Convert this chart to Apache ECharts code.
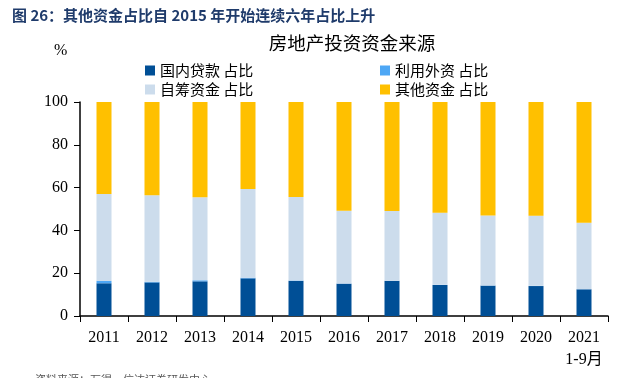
<!DOCTYPE html>
<html><head><meta charset="utf-8">
<script src="https://cdn.jsdelivr.net/npm/echarts@6/dist/echarts.min.js"></script>
<style>html,body{margin:0;padding:0;background:#fff}#c{width:630px;height:378px}</style>
</head><body><div id="c"></div>
<script>
var categories = ['2011','2012','2013','2014','2015','2016','2017','2018','2019','2020','2021\n1-9月'];
var domestic = [15.3,15.7,16.2,17.6,16.4,15.1,16.4,14.5,14.2,14.0,12.5];
var foreign = [1.1,0.3,0.5,0.3,0.2,0.1,0.1,0.1,0.1,0.1,0.05];
var selfRaised = [40.6,40.4,38.8,41.4,39.0,34.0,32.6,33.7,32.7,32.8,31.05];
var other = [43.0,43.6,44.5,40.7,44.4,50.8,50.9,51.7,53.0,53.1,56.4];
var yTicks = [0,20,40,60,80,100];

var serif = '"Liberation Serif","DejaVu Serif",serif';
var cjk = '"Liberation Serif","Noto Sans CJK SC",serif';
var chart = echarts.init(document.getElementById('c'));
function s(name, data, color){
  return {name:name,type:'bar',stack:'a',data:data,barWidth:15,
    itemStyle:{color:color},emphasis:{disabled:true}};
}
chart.setOption({
  animation:false,
  title:[
    {text:'图 26：其他资金占比自 2015 年开始连续六年占比上升',left:7,top:3,
     textStyle:{fontSize:15,fontWeight:'bold',color:'#1f3b6b',fontFamily:'"Noto Sans CJK SC",sans-serif'}},
    {text:'房地产投资资金来源',left:347,top:29,textAlign:'center',
     textStyle:{fontSize:18.5,fontWeight:'normal',color:'#000',fontFamily:'"Noto Sans CJK SC",sans-serif'}},
    {text:'%',left:49,top:38,textStyle:{fontSize:16,fontWeight:'normal',color:'#000',fontFamily:serif}},
    {text:'资料来源：万得，信达证券研发中心',left:30,top:369,
     textStyle:{fontSize:11,fontWeight:'normal',color:'#555',fontFamily:'"Noto Sans CJK SC",sans-serif'}}
  ],
  legend:[
    {data:['国内贷款 占比','自筹资金 占比'],left:140,top:58,orient:'vertical',itemGap:4,
     itemWidth:10,itemHeight:10,icon:'rect',
     textStyle:{fontSize:15,color:'#000',fontFamily:'"Noto Sans CJK SC",sans-serif'}},
    {data:['利用外资 占比','其他资金 占比'],left:375,top:58,orient:'vertical',itemGap:4,
     itemWidth:10,itemHeight:10,icon:'rect',
     textStyle:{fontSize:15,color:'#000',fontFamily:'"Noto Sans CJK SC",sans-serif'}}
  ],
  grid:{left:80,right:22,top:102,bottom:62},
  xAxis:{type:'category',data:categories,
    axisLine:{lineStyle:{color:'#000',width:1.5}},
    axisTick:{show:true,length:6,lineStyle:{color:'#000'}},
    axisLabel:{fontSize:16,color:'#000',fontFamily:cjk,margin:11,lineHeight:22,interval:0}},
  yAxis:{type:'value',min:0,max:100,interval:20,
    axisLine:{show:true,lineStyle:{color:'#000',width:1.5}},
    axisTick:{show:true,length:6,lineStyle:{color:'#000'}},
    splitLine:{show:false},
    axisLabel:{fontSize:16,color:'#000',fontFamily:serif,margin:12,
      formatter:function(v){return yTicks.indexOf(v)>=0?String(v):'';}}},
  series:[
    s('国内贷款 占比',domestic,'#004f96'),
    s('利用外资 占比',foreign,'#4ea7f5'),
    s('自筹资金 占比',selfRaised,'#ccdcec'),
    s('其他资金 占比',other,'#ffc000')
  ]
});
</script></body></html>
